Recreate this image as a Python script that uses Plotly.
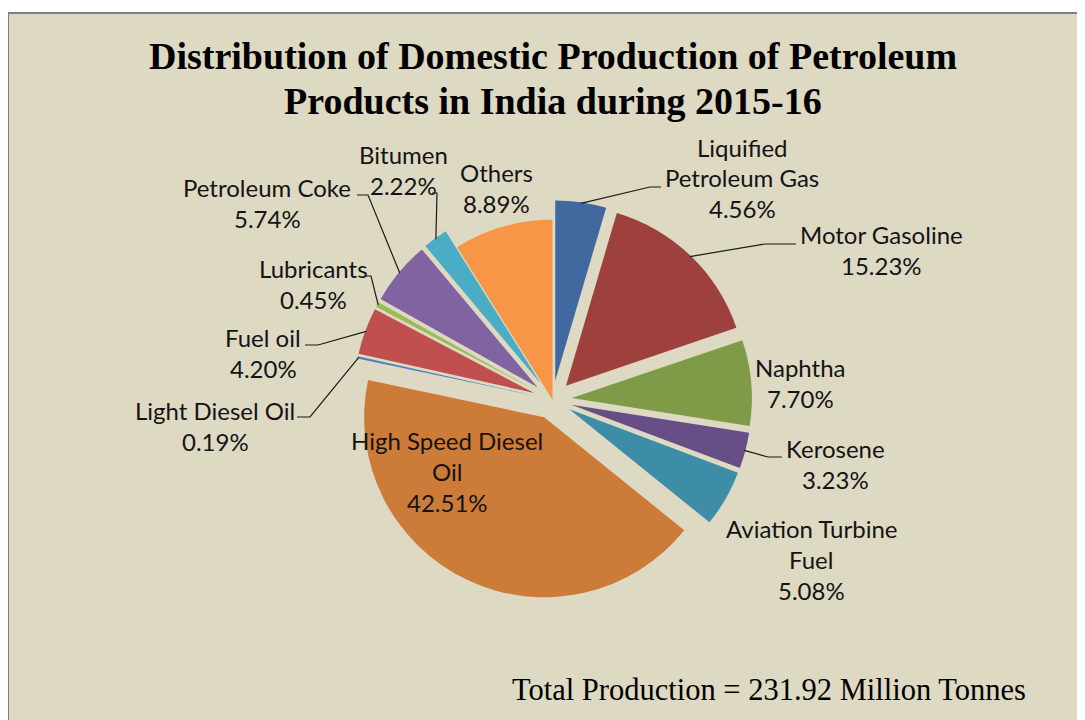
import math
import plotly.graph_objects as go

# ---------------- data ----------------
products = ["Liquified Petroleum Gas", "Motor Gasoline", "Naphtha", "Kerosene",
            "Aviation Turbine Fuel", "High Speed Diesel Oil", "Light Diesel Oil",
            "Fuel oil", "Lubricants", "Petroleum Coke", "Bitumen", "Others"]
shares = [4.56, 15.23, 7.70, 3.23, 5.08, 42.51, 0.19, 4.20, 0.45, 5.74, 2.22, 8.89]
label_lines = [["Liquified", "Petroleum Gas"], ["Motor Gasoline"], ["Naphtha"], ["Kerosene"],
               ["Aviation Turbine", "Fuel"], ["High Speed Diesel", "Oil"], ["Light Diesel Oil"],
               ["Fuel oil"], ["Lubricants"], ["Petroleum Coke"], ["Bitumen"], ["Others"]]
colors = ["#4169A0", "#9E413E", "#7F9B48", "#674E87", "#3C8DA5", "#CD7B38",
          "#4F81BD", "#C0504D", "#9BBB59", "#8064A2", "#4BACC6", "#F79646"]
title_lines = ["Distribution of Domestic Production of Petroleum",
               "Products in India during 2015-16"]
footer = "Total Production = 231.92 Million Tonnes"

# ---------------- layout constants (pixels, page coordinates) ----------------
OFF = 8                    # page body margin
W, H = 1085 - OFF, 720 - OFF
CX, CY = 552.5, 399.7      # pie centre
R = 180.0                  # slice radius
PULL = 0.108               # explosion (fraction of radius)
pulls = [PULL] * (len(shares) - 1) + [0.0]

half = R * (1 + PULL)


def X(px):
    return (px - OFF) / W


def Y(py):
    return 1 - (py - OFF) / H


# label block centres (px) and leader elbows
label_pos = [(742, 178), (881, 250), (800, 383), (835, 464), (811, 559), (447, 471),
             (215, 426), (263, 353), (313, 284), (267, 203), (403, 170), (496, 188)]
elbows = {
    0: [(650, 187), (661, 187)],
    1: [(765, 244), (796, 244)],
    3: [(768, 457), (782, 457)],
    6: [(310, 417), (297, 417)],
    7: [(318, 345), (305, 345)],
    8: [(371, 276), (366, 276)],
    9: [(368, 195), (357, 195)],
    10: [(437, 193), (432, 193)],
}

fig = go.Figure()
fig.add_trace(go.Pie(
    labels=products, values=shares, sort=False, direction="clockwise", rotation=0,
    marker=dict(colors=colors, line=dict(width=0)),
    pull=pulls, textinfo="none", hoverinfo="label+percent", showlegend=False,
    domain=dict(x=[X(CX - half), X(CX + half)], y=[Y(CY + half), Y(CY - half)]),
))

shapes = [dict(type="rect", xref="paper", yref="paper", x0=X(8), x1=X(1100),
               y0=Y(740), y1=Y(13), fillcolor="#DDD9C3",
               line=dict(color="#7F7F7F", width=2), layer="below")]

total = sum(shares)
cum = 0.0
for i, v in enumerate(shares):
    a0 = cum / total * 360
    cum += v
    a1 = cum / total * 360
    mid = math.radians((a0 + a1) / 2)
    ux, uy = math.sin(mid), -math.cos(mid)
    tx, ty = CX + pulls[i] * R * ux, CY + pulls[i] * R * uy
    ax, ay = tx + (R - 1) * ux, ty + (R - 1) * uy
    if i in elbows:
        pts = [(ax, ay)] + elbows[i]
        path = "M " + " L ".join(f"{X(px):.5f},{Y(py):.5f}" for px, py in pts)
        shapes.append(dict(type="path", xref="paper", yref="paper", path=path,
                           line=dict(color="#1A1A1A", width=1.2), layer="above"))

annotations = []
LINE = 31
FONT = dict(family="Lato", size=24, color="#141414")
for i, v in enumerate(shares):
    lines = label_lines[i] + [f"{v:.2f}%"]
    bx, by = label_pos[i]
    n = len(lines)
    for k, t in enumerate(lines):
        yy = by + (k - (n - 1) / 2) * LINE
        annotations.append(dict(x=X(bx), y=Y(yy), xref="paper", yref="paper", text=t,
                                showarrow=False, xanchor="center", yanchor="middle",
                                font=FONT))

for k, t in enumerate(title_lines):
    annotations.append(dict(x=X(553), y=Y(56 + 45 * k), xref="paper", yref="paper",
                            text=f"<b>{t}</b>", showarrow=False, xanchor="center",
                            yanchor="middle",
                            font=dict(family="Liberation Serif", size=38, color="#000000")))

annotations.append(dict(x=X(769), y=Y(690), xref="paper", yref="paper", text=footer,
                        showarrow=False, xanchor="center", yanchor="middle",
                        font=dict(family="Liberation Serif", size=30.5, color="#000000")))

fig.update_layout(width=W, height=H, margin=dict(l=0, r=0, t=0, b=0),
                  paper_bgcolor="#FFFFFF", plot_bgcolor="#FFFFFF",
                  shapes=shapes, annotations=annotations)

fig.write_html("out.html")
